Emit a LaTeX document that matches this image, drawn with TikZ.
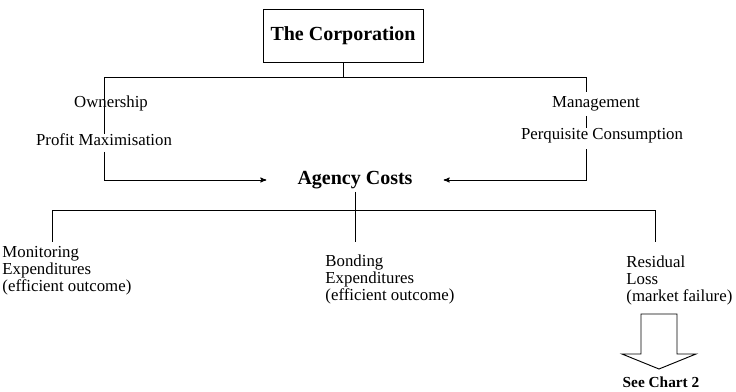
\documentclass[tikz,border=0pt]{standalone}
\usepackage{fontspec}
\setmainfont{Liberation Serif}
\usetikzlibrary{arrows}

\begin{document}
\begin{tikzpicture}[>=stealth',x=0.75pt,y=-0.75pt,line width=0.7pt]
\tikzstyle{every node}=[font=\fontsize{12.6}{12.75}\selectfont,inner sep=0pt]
\tikzstyle{head}=[font=\fontsize{15}{17}\selectfont\bfseries]
\tikzstyle{leaf}=[align=left,anchor=west]
\useasboundingbox (0,0) rectangle (736,392);
\node[head,draw,minimum width=120pt,minimum height=40pt] (corp) at (343,36) {The Corporation};
\node (own) at (111,103) {Ownership};
\node (pm) at (104,140) {Profit Maximisation};
\node[inner sep=3pt] (mgmt) at (596,104) {Management};
\node (pq) at (602,136) {Perquisite Consumption};
\node[head,inner xsep=23pt,inner ysep=2pt] (agency) at (355,180) {Agency Costs};
\node[leaf] (mon) at (2,271) {Monitoring\\Expenditures\\(efficient outcome)};
\node[leaf] (bond) at (325,279) {Bonding\\Expenditures\\(efficient outcome)};
\node[leaf] (res) at (626,280) {Residual\\Loss\\(market failure)};
\node[font=\fontsize{11.5}{13}\selectfont\bfseries] (chart) at (661,382) {See Chart 2};
\coordinate (tl) at (104,77);
\coordinate (tr) at (586,77);
\coordinate (bl) at (52,210);
\coordinate (br) at (655,210);
\coordinate (low) at (356,242);
\draw (corp) -- (corp |- tl);
\draw (tl |- pm.north) -- (tl) -- (tr) -- (tr |- mgmt.north);
\draw (tr |- mgmt.south) -- (tr |- pq.north);
\draw[->,shorten <=4pt] (tl |- pm.south) |- (agency.west);
\draw[->,shorten <=4pt] (tr |- pq.south) |- (agency.east);
\draw (agency) -- (agency |- low);
\draw (bl |- low) -- (bl) -- (br) -- (br |- low);
% hollow arrow down to the next chart
\draw (641,314) -- (677,314) -- (677,354) -- (696,354) -- (659,369)
      -- (622,354) -- (641,354) -- cycle;
\end{tikzpicture}
\end{document}
